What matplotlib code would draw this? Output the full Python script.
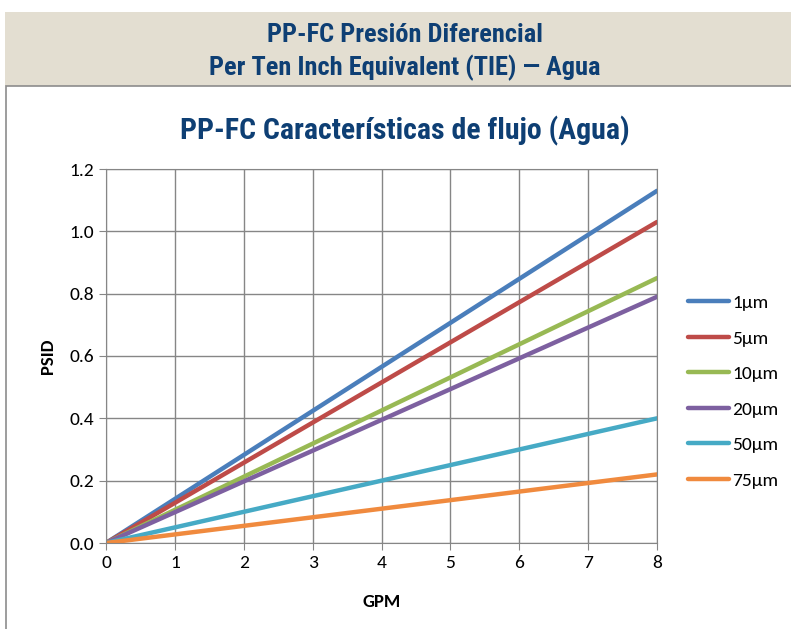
import matplotlib.pyplot as plt
from matplotlib.patches import Rectangle

plt.rcParams['font.family'] = ['Carlito', 'DejaVu Sans']
cond = ['Roboto Condensed', 'DejaVu Sans']

# data (straight lines read at 0 and 8 GPM)
gpm = [0, 8]
labels = ['1µm', '5µm', '10µm', '20µm', '50µm', '75µm']
psid = [
    [0, 1.13],
    [0, 1.03],
    [0, 0.85],
    [0, 0.79],
    [0, 0.40],
    [0, 0.22],
]
colors = ['#4A7EBB', '#BE4B48', '#98B954', '#7D60A0', '#46AAC5', '#F08A3E']

fig = plt.figure(figsize=(7.91, 6.29), dpi=100)
W, H = 791, 629

# header band
fig.patches.append(Rectangle((5 / W, 1 - 86 / H), 1, 74 / H, transform=fig.transFigure,
                             facecolor='#E3DED1', edgecolor='none'))
# white box outline
fig.patches.append(Rectangle((6 / W, -0.01), 1, (629 - 86) / H + 0.01, transform=fig.transFigure,
                             facecolor='none', edgecolor='#8C8C8C', lw=1.2))
fig.text(405 / W, 1 - 35 / H, 'PP-FC Presión Diferencial', ha='center', va='center',
         family=cond, fontsize=19, fontweight='bold', color='#0E3F74')
fig.text(405 / W, 1 - 68 / H, 'Per Ten Inch Equivalent (TIE) — Agua', ha='center', va='center',
         family=cond, fontsize=19, fontweight='bold', color='#0E3F74')
fig.text(405 / W, 1 - 131 / H, 'PP-FC Características de flujo (Agua)', ha='center', va='center',
         family=cond, fontsize=21.5, fontweight='bold', color='#0E3F74')

ax = fig.add_axes([106 / W, 1 - 543 / H, (657 - 106) / W, (543 - 169) / H])
for lab, y, c in zip(labels, psid, colors):
    ax.plot(gpm, y, color=c, lw=3.2, label=lab, solid_capstyle='round')

ax.set_xlim(0, 8)
ax.set_ylim(0, 1.2)
ax.set_xticks(range(0, 9))
ax.set_yticks([0, 0.2, 0.4, 0.6, 0.8, 1.0, 1.2])
ax.set_yticklabels(['0.0', '0.2', '0.4', '0.6', '0.8', '1.0', '1.2'])
ax.grid(True, color='#868686', lw=1)
ax.set_axisbelow(True)
for s in ax.spines.values():
    s.set_color('#868686')
ax.tick_params(colors='#868686', labelcolor='black', labelsize=14, length=5, direction='out')
ax.set_xlabel('GPM', fontsize=13.5, fontweight='bold', labelpad=17)
ax.set_ylabel('PSID', fontsize=13.5, fontweight='bold', labelpad=10)

ax.legend(loc='center left', bbox_to_anchor=(1.025, 0.405), frameon=False, fontsize=14,
          handlelength=2.1, labelspacing=0.97, handletextpad=0.15)

fig.savefig('out.png', dpi=100)
